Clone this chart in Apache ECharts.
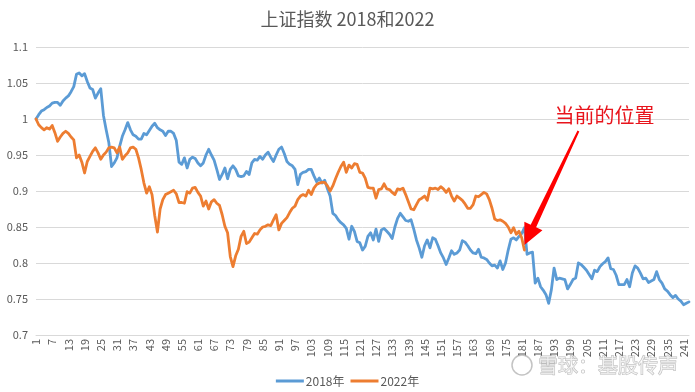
<!DOCTYPE html>
<html><head><meta charset="utf-8">
<script src="https://cdn.jsdelivr.net/npm/echarts@6/dist/echarts.min.js"></script>
<style>html,body{margin:0;padding:0;background:#fff}#c{width:695px;height:392px}</style>
</head><body><div id="c"></div>
<script>
const titleText = '上证指数 2018和2022';
const seriesNames = ['2018年', '2022年'];
const categories = Array.from({length: 243}, (_, k) => String(k + 1));
const yTicks = {min: 0.7, max: 1.1, interval: 0.05};

const values2018 = [
1.000,1.006,1.011,1.013,1.016,1.018,1.022,1.023,1.023,1.019,
1.025,1.029,1.032,1.038,1.045,1.062,1.064,1.060,1.063,1.052,
1.043,1.041,1.029,1.036,1.042,1.005,0.985,0.967,0.934,0.939,
0.946,0.962,0.976,0.985,0.995,0.985,0.978,0.976,0.972,0.972,
0.980,0.978,0.984,0.990,0.994,0.988,0.985,0.983,0.977,0.983,
0.983,0.980,0.970,0.940,0.937,0.946,0.932,0.944,0.947,0.945,
0.939,0.935,0.939,0.950,0.958,0.950,0.943,0.930,0.916,0.923,
0.932,0.917,0.930,0.935,0.930,0.921,0.920,0.921,0.927,0.923,
0.939,0.944,0.943,0.948,0.944,0.950,0.954,0.947,0.941,0.950,
0.958,0.961,0.952,0.941,0.937,0.935,0.930,0.909,0.923,0.926,
0.927,0.930,0.930,0.921,0.913,0.918,0.911,0.915,0.903,0.893,
0.869,0.866,0.860,0.856,0.853,0.848,0.833,0.851,0.844,0.830,
0.828,0.818,0.823,0.837,0.842,0.832,0.847,0.830,0.846,0.848,
0.844,0.840,0.834,0.850,0.862,0.869,0.864,0.859,0.858,0.860,
0.847,0.832,0.821,0.808,0.824,0.832,0.821,0.835,0.833,0.824,
0.814,0.807,0.798,0.807,0.817,0.812,0.814,0.818,0.831,0.829,
0.824,0.818,0.814,0.813,0.819,0.808,0.807,0.805,0.800,0.796,
0.797,0.793,0.803,0.791,0.800,0.818,0.833,0.835,0.832,0.837,
0.841,0.849,0.812,0.814,0.815,0.772,0.779,0.767,0.762,0.756,
0.744,0.763,0.793,0.777,0.779,0.778,0.777,0.764,0.770,0.777,
0.779,0.800,0.798,0.794,0.790,0.784,0.778,0.790,0.788,0.795,
0.799,0.802,0.807,0.792,0.791,0.783,0.770,0.770,0.770,0.777,
0.767,0.786,0.796,0.793,0.786,0.778,0.779,0.773,0.775,0.777,
0.788,0.777,0.772,0.764,0.761,0.756,0.752,0.755,0.750,0.747,
0.742,0.744,0.746];

const values2022 = [
1.000,0.992,0.988,0.985,0.988,0.986,0.991,0.981,0.969,0.975,
0.980,0.983,0.980,0.975,0.971,0.946,0.950,0.940,0.925,0.941,
0.948,0.955,0.960,0.953,0.944,0.950,0.954,0.960,0.961,0.960,
0.953,0.961,0.944,0.949,0.953,0.960,0.961,0.958,0.946,0.930,
0.911,0.897,0.906,0.895,0.866,0.843,0.875,0.888,0.895,0.897,
0.899,0.901,0.896,0.884,0.884,0.883,0.899,0.897,0.904,0.905,
0.898,0.893,0.879,0.886,0.875,0.885,0.888,0.883,0.880,0.867,
0.851,0.842,0.809,0.795,0.810,0.819,0.837,0.844,0.827,0.829,
0.835,0.841,0.840,0.846,0.850,0.851,0.853,0.852,0.860,0.867,
0.846,0.855,0.859,0.863,0.870,0.876,0.879,0.888,0.893,0.895,
0.893,0.901,0.895,0.904,0.909,0.911,0.912,0.912,0.907,0.900,
0.907,0.917,0.926,0.934,0.940,0.926,0.936,0.932,0.938,0.937,
0.926,0.925,0.918,0.905,0.904,0.904,0.890,0.902,0.903,0.910,
0.903,0.902,0.898,0.895,0.903,0.902,0.904,0.895,0.885,0.875,
0.874,0.881,0.888,0.890,0.893,0.887,0.904,0.903,0.904,0.902,
0.906,0.903,0.898,0.903,0.893,0.886,0.893,0.890,0.887,0.882,
0.876,0.876,0.881,0.893,0.892,0.895,0.898,0.896,0.888,0.876,
0.861,0.859,0.860,0.858,0.855,0.850,0.842,0.849,0.840,0.844,
0.835,0.818];

const annotationText = '当前的位置';
const annotationPoint = [181, 0.825];
const watermarkText = '雪球：基股传声';

const colors = ['#5B9BD5', '#ED7D31'];
const FONT = '"Noto Sans CJK SC", "Noto Sans", sans-serif';

const chart = echarts.init(document.getElementById('c'), null, {renderer: 'canvas'});
chart.setOption({
  animation: false,
  backgroundColor: '#fff',
  color: colors,
  textStyle: {fontFamily: FONT},
  title: {
    text: titleText, left: 'center', top: 5,
    textStyle: {fontSize: 18, fontWeight: 'normal', color: '#595959', fontFamily: FONT}
  },
  legend: {
    bottom: 0, left: 'center', itemWidth: 28, itemHeight: 3, itemGap: 6, icon: 'rect',
    textStyle: {fontSize: 12, color: '#595959', padding: [0, 0, 0, -3]},
    data: seriesNames
  },
  grid: {left: 36, right: 6, top: 47, bottom: 57, containLabel: false},
  xAxis: {
    type: 'category', data: categories, boundaryGap: false,
    axisLine: {lineStyle: {color: '#d9d9d9'}},
    axisTick: {show: false},
    axisLabel: {interval: 5, rotate: 90, fontSize: 11, color: '#595959', margin: 4}
  },
  yAxis: {
    type: 'value', min: yTicks.min, max: yTicks.max, interval: yTicks.interval,
    axisLine: {show: false}, axisTick: {show: false},
    splitLine: {lineStyle: {color: '#d9d9d9', width: 1}},
    axisLabel: {fontSize: 11, color: '#595959', margin: 8,
      formatter: v => String(+v.toFixed(2))}
  },
  series: [
    {name: seriesNames[0], type: 'line', data: values2018, showSymbol: false,
     lineStyle: {width: 2.8, color: colors[0], cap: 'round', join: 'round'}},
    {name: seriesNames[1], type: 'line', data: values2022, showSymbol: false,
     lineStyle: {width: 2.8, color: colors[1], cap: 'round', join: 'round'}}
  ]
});

// annotation arrow anchored on the data point
const tip = chart.convertToPixel({gridIndex: 0}, annotationPoint);
const dir = [-54, 114];
const len = Math.hypot(dir[0], dir[1]);
const u = [dir[0] / len, dir[1] / len];
const n = [u[1], -u[0]];
const T = tip;
const headLen = 21, headHalf = 10, shaftBase = 3, shaftTop = 1;
const B = [T[0] - headLen * u[0], T[1] - headLen * u[1]];
const S = [T[0] - len * u[0], T[1] - len * u[1]];
const pts = [
  T,
  [B[0] + headHalf * n[0], B[1] + headHalf * n[1]],
  [B[0] + shaftBase * n[0], B[1] + shaftBase * n[1]],
  [S[0] + shaftTop * n[0], S[1] + shaftTop * n[1]],
  [S[0] - shaftTop * n[0], S[1] - shaftTop * n[1]],
  [B[0] - shaftBase * n[0], B[1] - shaftBase * n[1]],
  [B[0] - headHalf * n[0], B[1] - headHalf * n[1]]
];
chart.setOption({
  graphic: [
    {type: 'polygon', shape: {points: pts}, style: {fill: '#FF0000'}, z: 100},
    {type: 'text', x: T[0] + 80, y: T[1] - 130,
     style: {text: annotationText, fill: '#E8141C', font: '20px ' + FONT, align: 'center', verticalAlign: 'middle'}, z: 100},
    {type: 'circle', shape: {cx: 522, cy: 365, r: 10},
     style: {fill: 'rgba(255,255,255,0.6)', stroke: 'rgba(170,170,170,0.7)', lineWidth: 1.5}, z: 100},
    {type: 'text', x: 678, y: 365,
     style: {text: watermarkText, fill: 'rgba(255,255,255,0.6)', stroke: 'rgba(160,160,160,0.7)', lineWidth: 1,
       font: '20px ' + FONT, align: 'right', verticalAlign: 'middle'}, z: 100}
  ]
});
</script>
</body></html>
